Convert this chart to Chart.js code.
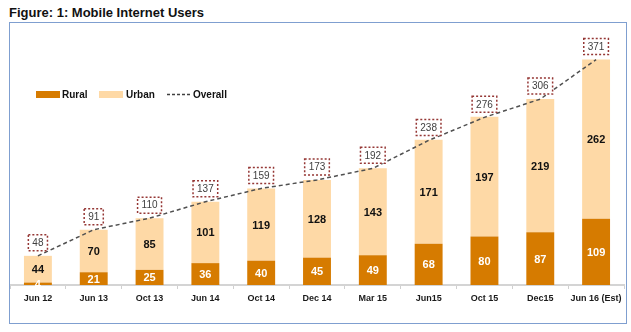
<!DOCTYPE html>
<html lang="en">
  <head>
    <meta charset="UTF-8" />
    <title>Mobile Internet Users</title>
    <script src="https://cdn.jsdelivr.net/npm/chart.js"></script>
    <style>
      body {
        margin: 0;
        background: #fff;
        font-family: "Liberation Sans", Arial, sans-serif;
      }
      #title {
        position: absolute;
        left: 9px;
        top: 5px;
        font-size: 13px;
        font-weight: bold;
        color: #111;
      }
      #frame {
        position: absolute;
        left: 9px;
        top: 22px;
        width: 616px;
        height: 300px;
        border: 1px solid #7f9fd0;
      }
    </style>
  </head>
  <body>
    <div id="title">Figure: 1: Mobile Internet Users</div>
    <div id="frame">
      <canvas id="chart" width="616" height="300"></canvas>
    </div>
    <script>
      // data
      const periods = ["Jun 12", "Jun 13", "Oct 13", "Jun 14", "Oct 14", "Dec 14",
        "Mar 15", "Jun15", "Oct 15", "Dec15", "Jun 16 (Est)"];
      const rural = [4, 21, 25, 36, 40, 45, 49, 68, 80, 87, 109];
      const urban = [44, 70, 85, 101, 119, 128, 143, 171, 197, 219, 262];
      const overall = [48, 91, 110, 137, 159, 173, 192, 238, 276, 306, 371];

      const RURAL = "#d67b00";
      const URBAN = "#fed9a6";

      // numbers inside the bars and boxed totals above the line
      const valueLabels = {
        id: "valueLabels",
        afterDatasetsDraw(chart) {
          const ctx = chart.ctx;
          ctx.save();
          ctx.textAlign = "center";
          ctx.textBaseline = "middle";
          chart.data.datasets.forEach((ds, i) => {
            const meta = chart.getDatasetMeta(i);
            meta.data.forEach((el, j) => {
              if (ds.type === "line") {
                const txt = String(ds.data[j]);
                ctx.font = "10px 'Liberation Sans', Arial";
                const w = ctx.measureText(txt).width + 8;
                const h = 16;
                const cx = el.x, cy = el.y - 13;
                ctx.fillStyle = "#fff";
                ctx.fillRect(cx - w / 2, cy - h / 2, w, h);
                ctx.setLineDash([2, 2]);
                ctx.lineWidth = 1.5;
                ctx.strokeStyle = "#953735";
                ctx.strokeRect(cx - w / 2, cy - h / 2, w, h);
                ctx.setLineDash([]);
                ctx.fillStyle = "#404040";
                ctx.fillText(txt, cx, cy + 0.5);
              } else {
                ctx.font = "bold 11px 'Liberation Sans', Arial";
                ctx.fillStyle = i === 0 ? "#fff" : "#111";
                ctx.fillText(String(ds.data[j]), el.x, (el.y + el.base) / 2 + 1);
              }
            });
          });
          ctx.restore();
        },
      };

      // legend sits inside the plot, top left
      const insideLegend = {
        id: "insideLegend",
        afterDraw(chart) {
          const ctx = chart.ctx;
          const y = 71;
          ctx.save();
          ctx.font = "bold 10px 'Liberation Sans', Arial";
          ctx.textBaseline = "middle";
          ctx.fillStyle = RURAL;
          ctx.fillRect(26, y - 3, 24, 7);
          ctx.fillStyle = URBAN;
          ctx.fillRect(89, y - 3, 24, 7);
          ctx.strokeStyle = "#404040";
          ctx.lineWidth = 1.5;
          ctx.setLineDash([3, 2]);
          ctx.beginPath();
          ctx.moveTo(157, y + 0.5);
          ctx.lineTo(181, y + 0.5);
          ctx.stroke();
          ctx.setLineDash([]);
          ctx.fillStyle = "#111";
          ctx.fillText("Rural", 52, y + 1);
          ctx.fillText("Urban", 116, y + 1);
          ctx.fillText("Overall", 183, y + 1);
          ctx.restore();
        },
      };

      new Chart(document.getElementById("chart"), {
        data: {
          labels: periods,
          datasets: [
            {
              type: "bar",
              label: "Rural",
              data: rural,
              backgroundColor: RURAL,
              stack: "users",
              order: 2,
            },
            {
              type: "bar",
              label: "Urban",
              data: urban,
              backgroundColor: URBAN,
              stack: "users",
              order: 2,
            },
            {
              type: "line",
              label: "Overall",
              data: overall,
              stack: "overall",
              borderColor: "#505050",
              borderWidth: 1.5,
              borderDash: [4, 3],
              pointRadius: 0,
              fill: false,
              order: 1,
            },
          ],
        },
        options: {
          responsive: false,
          animation: false,
          layout: { padding: { top: 19, left: 0, right: 2, bottom: 0 } },
          datasets: {
            bar: { barPercentage: 0.5, categoryPercentage: 1 },
          },
          plugins: {
            legend: { display: false },
            tooltip: { enabled: false },
          },
          scales: {
            x: {
              stacked: true,
              afterFit: (scale) => {
                scale.height = 38;
              },
              grid: {
                drawOnChartArea: false,
                tickLength: 4,
                color: "#d0d0d0",
              },
              border: { color: "#d4d4d4", width: 2 },
              ticks: {
                color: "#1a1a1a",
                padding: 4,
                font: { family: "'Liberation Sans', Arial", size: 9, weight: "bold" },
                maxRotation: 0,
                autoSkip: false,
              },
            },
            y: {
              stacked: true,
              display: false,
              min: 0,
              max: 400,
            },
          },
        },
        plugins: [valueLabels, insideLegend],
      });
    </script>
  </body>
</html>
